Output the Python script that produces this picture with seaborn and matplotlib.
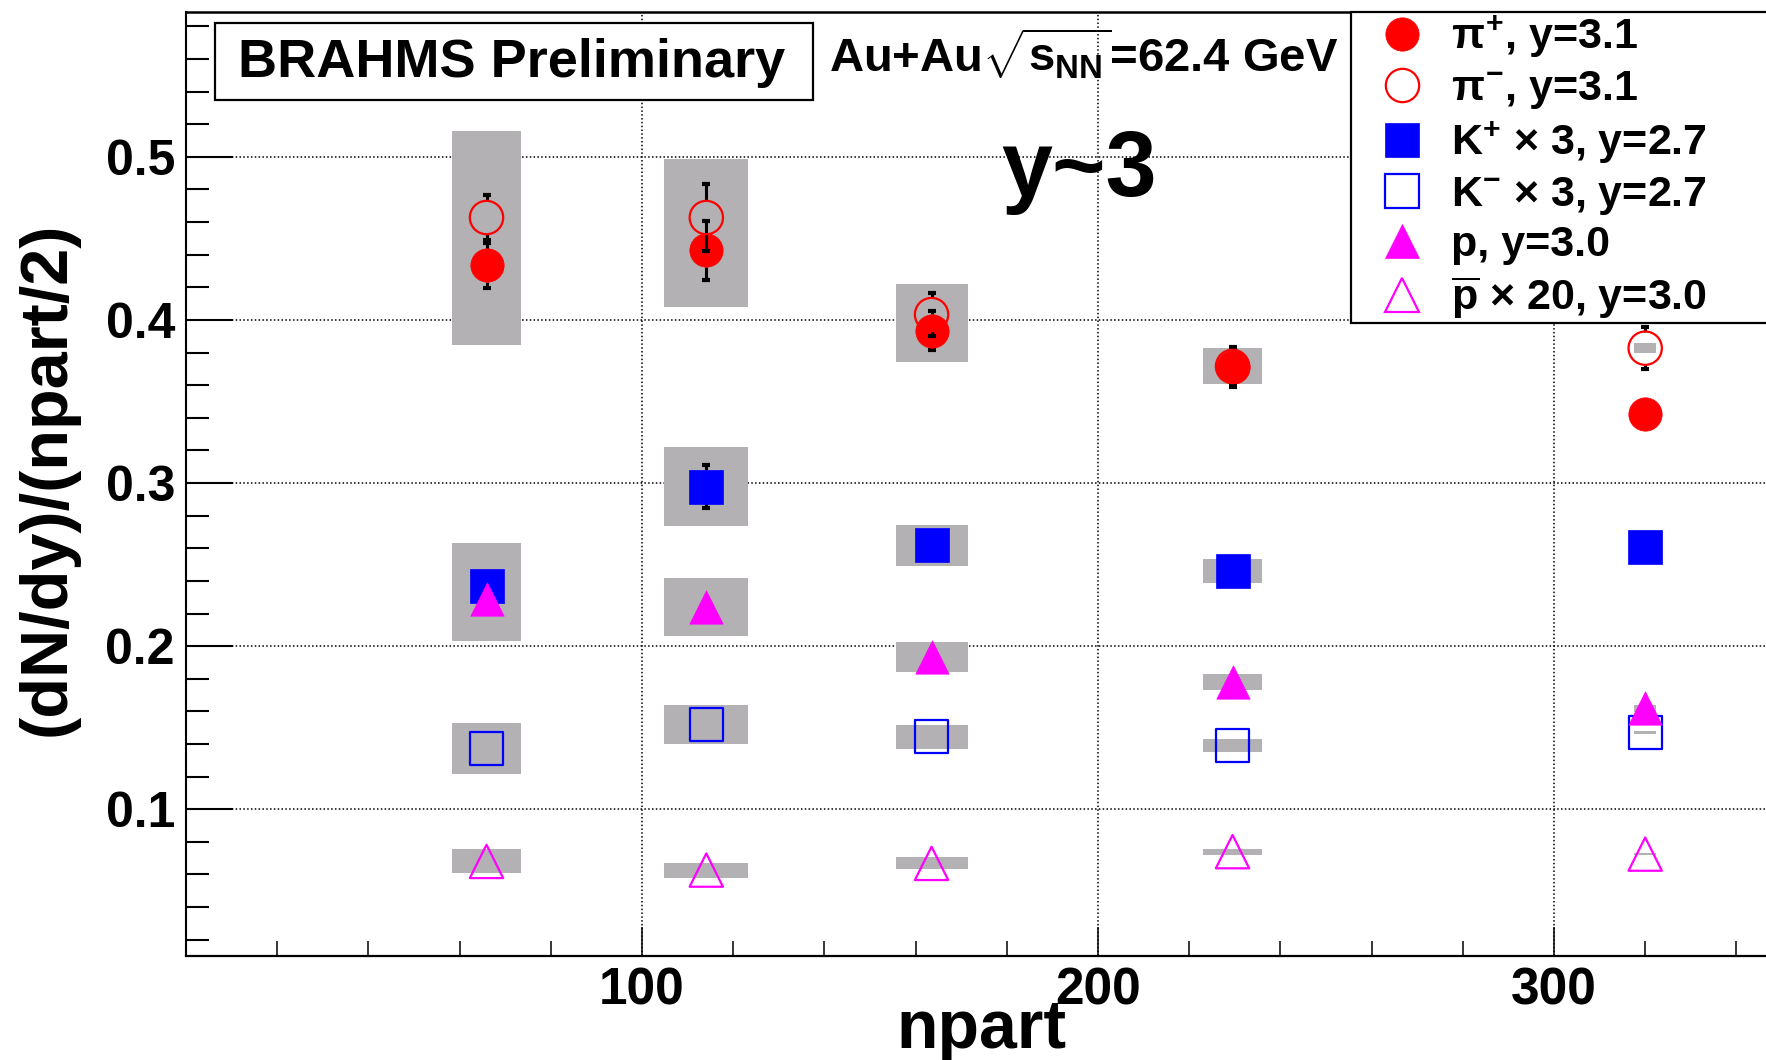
import matplotlib
matplotlib.use("Agg")
import matplotlib.pyplot as plt
import seaborn as sns
from matplotlib.lines import Line2D
from matplotlib.patches import Rectangle
from matplotlib.ticker import MultipleLocator, FixedLocator, FormatStrFormatter

# ---------------------------------------------------------------- data
# centrality classes: mean number of participants and its systematic spread
npart = [65.9, 114.1, 163.5, 229.5, 320.0]
npart_sys = [7.6, 9.2, 7.9, 6.45, 2.35]

# (dN/dy)/(npart/2), statistical and systematic errors
pip = [0.4334, 0.4427, 0.3935, 0.3710, 0.3423]
pip_err = [0.014, 0.018, 0.012, 0.012, 0.008]
pip_sys = [0.049, 0.035, 0.0195, 0.010, 0.003]

pim = [0.4628, 0.4628, 0.4033, 0.3715, 0.3827]
pim_err = [0.014, 0.0205, 0.013, 0.012, 0.013]
pim_sys = [0.053, 0.036, 0.019, 0.011, 0.003]

kp = [0.2366, 0.2978, 0.2618, 0.2460, 0.2605]
kp_err = [0.006, 0.013, 0.006, 0.006, 0.006]
kp_sys = [0.0265, 0.024, 0.0127, 0.0073, 0.002]

km = [0.1373, 0.1519, 0.1445, 0.1390, 0.1470]
km_err = [0.0, 0.0, 0.0, 0.0, 0.0]
km_sys = [0.0158, 0.012, 0.0074, 0.0038, 0.001]

prot = [0.2292, 0.2238, 0.1935, 0.1780, 0.1619]
prot_err = [0.0, 0.0, 0.0, 0.0, 0.0]
prot_sys = [0.026, 0.0178, 0.0092, 0.0051, 0.002]

pbar = [0.0680, 0.0627, 0.0668, 0.0740, 0.0725]
pbar_err = [0.0, 0.0, 0.0, 0.0, 0.0]
pbar_sys = [0.0074, 0.0046, 0.0037, 0.0018, 0.0008]

labels = [r"$\pi^{+}$, y=3.1", r"$\pi^{-}$, y=3.1", r"K$^{+}$ × 3, y=2.7",
          r"K$^{-}$ × 3, y=2.7", r"p, y=3.0", r"$\overline{\rm p}$ × 20, y=3.0"]
x_ticks = [100, 200, 300]
y_ticks = [0.1, 0.2, 0.3, 0.4, 0.5]

# ---------------------------------------------------------------- style
sns.set_theme(style="white")
plt.rcParams["font.family"] = ["Liberation Sans", "DejaVu Sans"]
plt.rcParams["font.weight"] = "bold"
for key in ("text.color", "axes.labelcolor", "xtick.color", "ytick.color",
            "axes.edgecolor"):
    plt.rcParams[key] = "black"
plt.rcParams["mathtext.fontset"] = "custom"
for key in ("rm", "it", "bf", "sf"):
    plt.rcParams["mathtext." + key] = "Liberation Sans:bold"

W, H = 1766, 1060
fig = plt.figure(figsize=(W / 100, H / 100), dpi=100)
fig.patch.set_facecolor("white")
ax = fig.add_axes([186 / W, (H - 955.7) / H, 1 - 186 / W, (955.7 - 11.7) / H])
ax.set_facecolor("white")
ax.set_xlim(0, (W - 186) / 4.56)
ax.set_ylim(0.0102, 0.589)

RED, BLUE, MAG, GREY = "#ff0000", "#0000ff", "#ff00ff", "#b3b1b4"
series = [
    (pip, pip_err, pip_sys, "o", RED, True),
    (pim, pim_err, pim_sys, "o", RED, False),
    (kp, kp_err, kp_sys, "s", BLUE, True),
    (km, km_err, km_sys, "s", BLUE, False),
    (prot, prot_err, prot_sys, "^", MAG, True),
    (pbar, pbar_err, pbar_sys, "^", MAG, False),
]

# systematic-error boxes first, underneath everything
for y, err, sys_, m, c, filled in series:
    ax.bar(npart, [2 * s for s in sys_], width=[2 * w for w in npart_sys],
           bottom=[v - s for v, s in zip(y, sys_)], color=GREY,
           linewidth=0, align="center", zorder=2)

MS = 24
# marker half-size in data units: error bars start at the marker edge
y0, y1 = ax.get_ylim()
half = (MS / 2 * fig.dpi / 72) / (ax.bbox.height / (y1 - y0))

for i, (y, err, sys_, m, c, filled) in enumerate(series):
    z = 3 + 2 * i
    pts = [(xv, yv, e) for xv, yv, e in zip(npart, y, err) if e > 0]
    if pts:
        xs = [p[0] for p in pts]
        ys = [p[1] for p in pts]
        es = [p[2] for p in pts]
        ax.errorbar(xs, ys, yerr=es, fmt="none", ecolor="black",
                    elinewidth=0, capsize=2.9, capthick=3, zorder=z)
        long_ = [(xv, yv, e) for xv, yv, e in pts if e > half]
        if long_:
            lx = [p[0] for p in long_]
            ax.vlines(lx, [p[1] + half for p in long_], [p[1] + p[2] for p in long_],
                      color="black", linewidth=2.2, zorder=z)
            ax.vlines(lx, [p[1] - p[2] for p in long_], [p[1] - half for p in long_],
                      color="black", linewidth=2.2, zorder=z)
    if filled:
        sns.scatterplot(x=npart, y=y, marker=m, s=MS ** 2, color=c,
                        edgecolor=c, linewidth=0.5, ax=ax, zorder=z + 1,
                        legend=False)
    else:
        sns.scatterplot(x=npart, y=y, marker=m, s=MS ** 2, facecolor="none",
                        edgecolor=c, linewidth=1.6, ax=ax, zorder=z + 1,
                        legend=False)

# ---------------------------------------------------------------- axes
ax.set_xlim(0, (W - 186) / 4.56)
ax.set_ylim(y0, y1)
ax.xaxis.set_major_locator(FixedLocator(x_ticks))
ax.xaxis.set_minor_locator(MultipleLocator(20))
ax.yaxis.set_major_locator(FixedLocator(y_ticks))
ax.yaxis.set_minor_locator(MultipleLocator(0.02))
ax.yaxis.set_major_formatter(FormatStrFormatter("%.1f"))

ax.tick_params(axis="y", which="major", direction="in", length=34, width=1.5,
               labelsize=36, pad=8, left=True, color="black", labelcolor="black")
ax.tick_params(axis="y", which="minor", direction="in", length=16.5, width=1.5,
               left=True, color="black")
ax.tick_params(axis="x", which="major", direction="in", length=21, width=1.1,
               labelsize=37, pad=8, bottom=True, color="black", labelcolor="black")
ax.tick_params(axis="x", which="minor", direction="in", length=11, width=1.1,
               bottom=True, color="black")
for lab in ax.get_xticklabels() + ax.get_yticklabels():
    lab.set_fontweight("bold")

ax.grid(True, which="major", color="black", linestyle=(0, (1, 1.5)),
        linewidth=1.1)
ax.set_axisbelow(True)

for side in ("left", "bottom", "top"):
    ax.spines[side].set_visible(True)
    ax.spines[side].set_color("black")
ax.spines["left"].set_linewidth(1.5)
ax.spines["bottom"].set_linewidth(1.6)
ax.spines["top"].set_linewidth(1.8)
ax.spines["right"].set_visible(False)

ax.set_xlabel("npart", fontsize=49, fontweight="bold", color="black")
ax.xaxis.set_label_coords((981 - 186) / 1580, (955.7 - 1048) / 944)
ax.xaxis.label.set_va("baseline")

ax.set_ylabel("(dN/dy)/(npart/2)", fontsize=48, fontweight="bold", color="black")
ax.yaxis.set_label_coords((47.7 - 186) / 1580, (955.7 - 478.7) / 944)
ax.yaxis.label.set_va("center")
ax.yaxis.label.set_ha("center")

# ---------------------------------------------------------------- annotations
fig.add_artist(Rectangle((215 / W, 1 - 100 / H), (813 - 215) / W, (100 - 22.7) / H,
                         transform=fig.transFigure, facecolor="white",
                         edgecolor="black", linewidth=1.6, zorder=5))
fig.text(512 / W, 1 - 76.7 / H, "BRAHMS Preliminary", ha="center", va="baseline",
         fontsize=39, fontweight="bold", color="black", zorder=6)
fig.text(829 / W, 1 - 71.7 / H, r"Au+Au$\sqrt{s_{NN}}$=62.4 GeV", ha="left",
         va="baseline", fontsize=34, fontweight="bold", color="black")
ax.text(195.8, 0.4758, "y~3", ha="center", va="baseline", fontsize=66,
        fontweight="bold", color="black", zorder=5)

handles = []
for y, err, sys_, m, c, filled in series:
    handles.append(Line2D([], [], linestyle="none", marker=m, markersize=MS,
                          markerfacecolor=c if filled else "none",
                          markeredgecolor=c, markeredgewidth=0.5 if filled else 1.6))
leg = ax.legend(handles, labels, loc="upper left",
                bbox_to_anchor=(0.7373, 0.0, 0.3, 1.0), mode="expand",
                borderaxespad=0, frameon=True, fancybox=False,
                edgecolor="black", framealpha=1, facecolor="white",
                prop={"weight": "bold", "size": 31, "family": "Liberation Sans"},
                handlelength=2.27, handletextpad=0.0, borderpad=0.05,
                labelspacing=0.2)
for t in leg.get_texts():
    t.set_color("black")
leg.get_frame().set_linewidth(1.6)
leg.set_zorder(20)

fig.savefig("out.png", dpi=100, facecolor="white")
